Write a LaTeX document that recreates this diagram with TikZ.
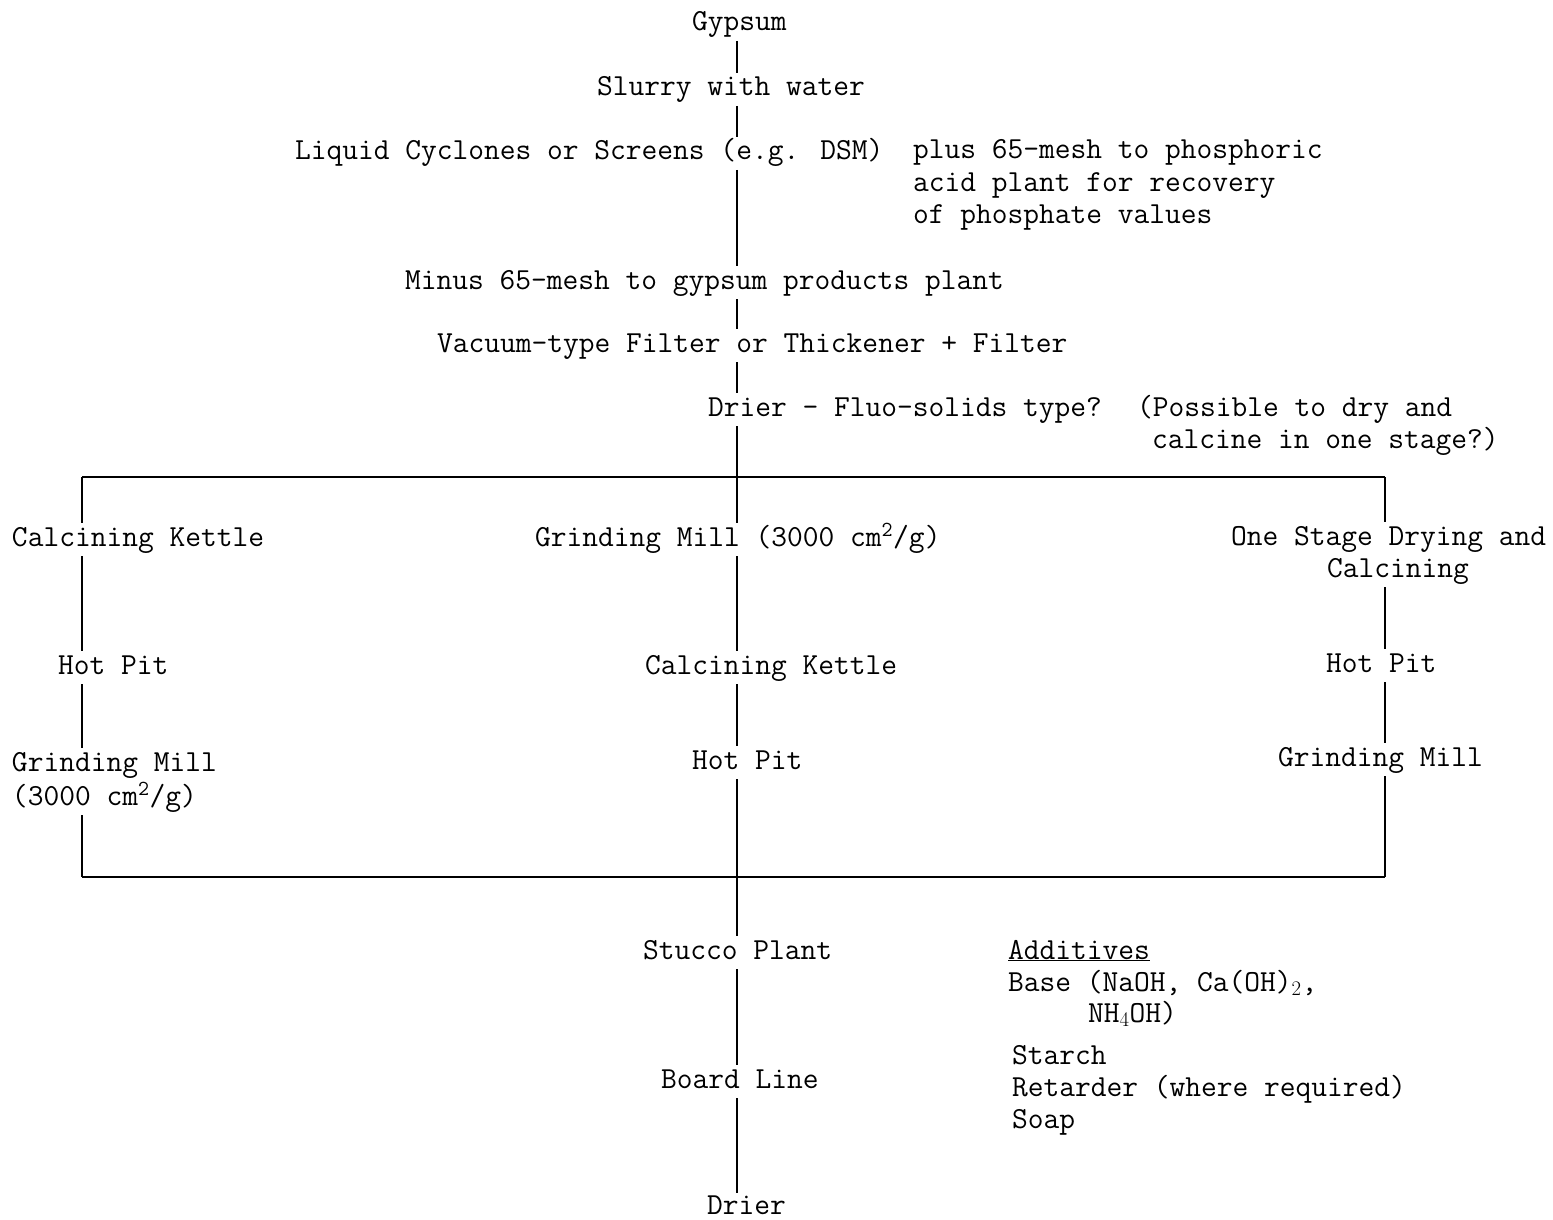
\documentclass[tikz,border=0pt]{standalone}
\usepackage{fontspec}
\begin{document}
\begin{tikzpicture}[x=1pt,y=-1pt,
  tw/.style={font=\ttfamily\fontsize{30.6}{32}\selectfont, anchor=base west, inner sep=0pt, outer xsep=0pt, outer ysep=3pt, text height=20pt, text depth=7pt},
  ln/.style={line width=1.9pt},
  bus/.style={line width=2.4pt}]
\useasboundingbox[fill=white] (0,0) rectangle (1553,1220);
% spines
\coordinate (spL) at (82,0);
\coordinate (spM) at (737,0);
\coordinate (spR) at (1385,0);
\coordinate (busT) at (0,477);
\coordinate (busB) at (0,877);
% main column
\node[tw] (gyp) at (692,31) {Gypsum};
\node[tw] (slurry) at (597,96) {Slurry with water};
\node[tw] (liquid) at (295,160) {Liquid Cyclones or Screens (e.g. DSM)};
\node[tw] (plus1) at (913,159) {plus 65-mesh to phosphoric};
\node[tw] (plus2) at (913,191) {acid plant for recovery};
\node[tw] (plus3) at (913,223) {of phosphate values};
\node[tw] (minus) at (405,289) {Minus 65-mesh to gypsum products plant};
\node[tw] (vac) at (437,352) {Vacuum-type Filter or Thickener + Filter};
\node[tw] (drier) at (708,416) {Drier - Fluo-solids type?};
\node[tw] (poss1) at (1137,416) {(Possible to dry and};
\node[tw] (poss2) at (1152,448) {calcine in one stage?)};
% left column
\node[tw] (ck1) at (12,546) {Calcining Kettle};
\node[tw] (hp1) at (58,674) {Hot Pit};
\node[tw] (gm1) at (12,771) {Grinding Mill};
\node[tw] (gm1b) at (12,805) {(3000 cm\textsuperscript{2}/g)};
% middle column
\node[tw] (gm2) at (535,546) {Grinding Mill (3000 cm\textsuperscript{2}/g)};
\node[tw] (ck2) at (645,674) {Calcining Kettle};
\node[tw] (hp2) at (692,769) {Hot Pit};
% right column
\node[tw] (osd1) at (1231,545) {One Stage Drying and};
\node[tw] (osd2) at (1327,577) {Calcining};
\node[tw] (hp3) at (1326,672) {Hot Pit};
\node[tw] (gm3) at (1278,766) {Grinding Mill};
% bottom
\node[tw] (stucco) at (643,959) {Stucco Plant};
\node[tw] (board) at (661,1088) {Board Line};
\node[tw, text depth=2pt, outer ysep=1pt] (drier2) at (707,1214) {Drier};
\node[tw] (add1) at (1008,959) {\underline{Additives}};
\node[tw] (add2) at (1008,991) {Base (NaOH, Ca(OH)$_2$,};
\node[tw] (add3) at (1088,1022) {NH$_4$OH)};
\node[tw] (add4) at (1012,1064) {Starch};
\node[tw] (add5) at (1012,1096) {Retarder (where required)};
\node[tw] (add6) at (1012,1128) {Soap};
% connectors: main spine
\draw[ln] (gyp.south -| spM) -- (slurry.north -| spM);
\draw[ln] (slurry.south -| spM) -- (liquid.north -| spM);
\draw[ln] (liquid.south -| spM) -- (minus.north -| spM);
\draw[ln] (minus.south -| spM) -- (vac.north -| spM);
\draw[ln] (vac.south -| spM) -- (drier.north -| spM);
\draw[ln] (drier.south -| spM) -- (gm2.north -| spM);
% top bus
\draw[bus] (spL |- busT) -- (spR |- busT);
\draw[ln] (spL |- busT) -- (ck1.north -| spL);
\draw[ln] (spR |- busT) -- (osd1.north -| spR);
% left column
\draw[ln] (ck1.south -| spL) -- (hp1.north -| spL);
\draw[ln] (hp1.south -| spL) -- (gm1.north -| spL);
\draw[ln] (gm1b.south -| spL) -- (spL |- busB);
% middle column
\draw[ln] (gm2.south -| spM) -- (ck2.north -| spM);
\draw[ln] (ck2.south -| spM) -- (hp2.north -| spM);
\draw[ln] (hp2.south -| spM) -- (stucco.north -| spM);
% right column
\draw[ln] (osd2.south -| spR) -- (hp3.north -| spR);
\draw[ln] (hp3.south -| spR) -- (gm3.north -| spR);
\draw[ln] (gm3.south -| spR) -- (spR |- busB);
% bottom bus
\draw[bus] (spL |- busB) -- (spR |- busB);
% bottom column
\draw[ln] (stucco.south -| spM) -- (board.north -| spM);
\draw[ln] (board.south -| spM) -- (drier2.north -| spM);
\end{tikzpicture}
\end{document}
